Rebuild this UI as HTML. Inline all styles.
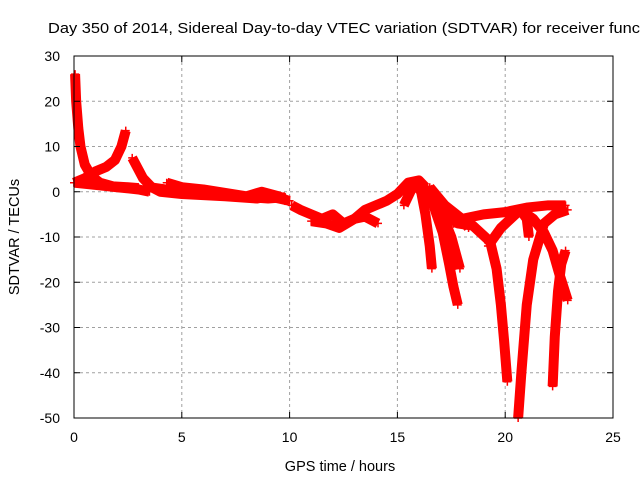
<!DOCTYPE html>
<html><head><meta charset="utf-8"><style>
html,body{margin:0;padding:0;background:#fff;}
svg{display:block;font-family:"Liberation Sans",sans-serif;}
</style></head><body>
<svg id="chart" width="640" height="480" viewBox="0 0 640 480">
<rect x="0" y="0" width="640" height="480" fill="#fff"/>
<text x="48" y="33" font-size="14.5" fill="#000" textLength="592" lengthAdjust="spacingAndGlyphs">Day 350 of 2014, Sidereal Day-to-day VTEC variation (SDTVAR) for receiver func</text>
<g id="grid"></g>
<g id="marks"></g>
<rect x="74" y="56" width="539" height="362" fill="none" stroke="#000" stroke-width="1"/>
<g id="axes"></g>
<text x="340" y="471" font-size="14.5" text-anchor="middle">GPS time / hours</text>
<text transform="translate(19,237) rotate(-90)" font-size="14.5" text-anchor="middle">SDTVAR / TECUs</text>
</svg>
<script>
const xTicks=[0,5,10,15,20,25];
const yTicks=[30,20,10,0,-10,-20,-30,-40,-50];
const track1=[[0.05,26],[0.1,20],[0.2,14],[0.3,10],[0.5,6],[0.8,3.5],[1.2,2],[1.8,1.2],[2.5,1],[3,0.8]];
const track2=[[0,2],[0.5,3],[1,4.5],[1.5,5.5],[1.9,7],[2.2,10],[2.4,13.5]];
const track3=[[0,2],[1,1.5],[2,1],[3,0.5],[3.5,0]];
const track4=[[2.7,7.5],[3.2,3],[3.6,1],[4,0],[5,-0.5],[7,-1],[8.5,-1.5],[9,-1],[9.5,-1.5],[10,-2]];
const track5=[[4.3,2],[5,1],[6,0.5],[8,-1],[8.7,0],[9.5,-1],[9.9,-2]];
const track6=[[10.1,-3],[10.5,-4],[11,-5],[11.5,-6],[12,-5],[12.5,-7],[13,-6],[13.5,-4],[14,-3],[14.5,-2],[15,-0.5],[15.5,2],[16,2.5],[16.3,1]];
const track7=[[11,-6.5],[11.7,-7],[12.3,-8],[13,-6],[13.5,-5.5],[14.1,-7]];
const track8=[[15.3,-3],[15.8,2],[16.1,0],[16.3,-5],[16.5,-12],[16.6,-17]];
const track9=[[16.1,2],[16.6,-2],[17.1,-9],[17.4,-16],[17.6,-21],[17.8,-25]];
const track10=[[16.4,1],[17,-4],[17.5,-10],[17.9,-17]];
const track11=[[16,2],[17,-4],[17.8,-7],[18.5,-7.5],[19.3,-11],[19.6,-17],[19.8,-25],[19.95,-33],[20.1,-42]];
const track12=[[17.5,-7],[18,-6],[19,-5],[20,-4.5],[21,-3.5],[22,-3],[22.8,-3]];
const track13=[[19.2,-12],[19.8,-8],[20.7,-4],[21,-6],[21.1,-10]];
const track14=[[20.6,-50],[20.75,-40],[21,-25],[21.3,-15],[21.8,-7],[22.3,-5],[22.9,-4]];
const track15=[[20.7,-4],[21.3,-6],[21.8,-9],[22.2,-13],[22.5,-18],[22.9,-24]];
const track16=[[22.2,-43],[22.3,-32],[22.45,-22],[22.6,-16],[22.8,-13]];
const track17=[[3.5,1],[5,0],[7,-0.8],[9,-1.5],[9.8,-1.2]];
const track18=[[16.5,1],[17.2,-3],[18,-6],[18.3,-8]];
const tracks=[track1,track2,track3,track4,track5,track6,track7,track8,track9,track10,track11,track12,track13,track14,track15,track16,track17,track18];
const NS="http://www.w3.org/2000/svg";
const X=h=>74+h*(539/25);
const Y=v=>56+(30-v)*(362/80);
const grid=document.getElementById('grid'),axes=document.getElementById('axes'),marks=document.getElementById('marks');
function mk(t,a,p){const e=document.createElementNS(NS,t);for(const k in a)e.setAttribute(k,a[k]);p.appendChild(e);return e;}
xTicks.forEach(t=>{
 const x=X(t);
 if(t>0&&t<25){const g=mk('line',{x1:x,y1:56,x2:x,y2:418,stroke:'#a0a0a0','stroke-dasharray':'3,3'},grid);
 
 }
 mk('line',{x1:x,y1:418,x2:x,y2:412,stroke:'#000'},axes);
 mk('line',{x1:x,y1:56,x2:x,y2:62,stroke:'#000'},axes);
 const l=mk('text',{x:x,y:442,'font-size':14,'text-anchor':'middle'},axes);l.textContent=t;
 
 
});
yTicks.forEach(t=>{
 const y=Y(t);
 if(t<30&&t>-50){const g=mk('line',{x1:74,y1:y,x2:613,y2:y,stroke:'#a0a0a0','stroke-dasharray':'3,3'},grid);
 
 }
 mk('line',{x1:74,y1:y,x2:80,y2:y,stroke:'#000'},axes);
 mk('line',{x1:613,y1:y,x2:607,y2:y,stroke:'#000'},axes);
 const l=mk('text',{x:60,y:y+5,'font-size':14,'text-anchor':'end'},axes);l.textContent=t;
 
 
});
tracks.forEach((tr,i)=>{
 const pts=tr.map(p=>X(p[0])+','+Y(p[1])).join(' ');
 const pl=mk('polyline',{points:pts,fill:'none',stroke:'#ff0000','stroke-width':10,'stroke-linejoin':'round','stroke-linecap':'butt'},marks);
 
 
 tr.forEach(p=>{
  const x=X(p[0]),y=Y(p[1]);
  const m=mk('path',{d:`M${x-4},${y}H${x+4}M${x},${y-4}V${y+4}`,stroke:'#ff0000','stroke-width':1.5},marks);
  
  
 });
});
</script>
</body></html>
